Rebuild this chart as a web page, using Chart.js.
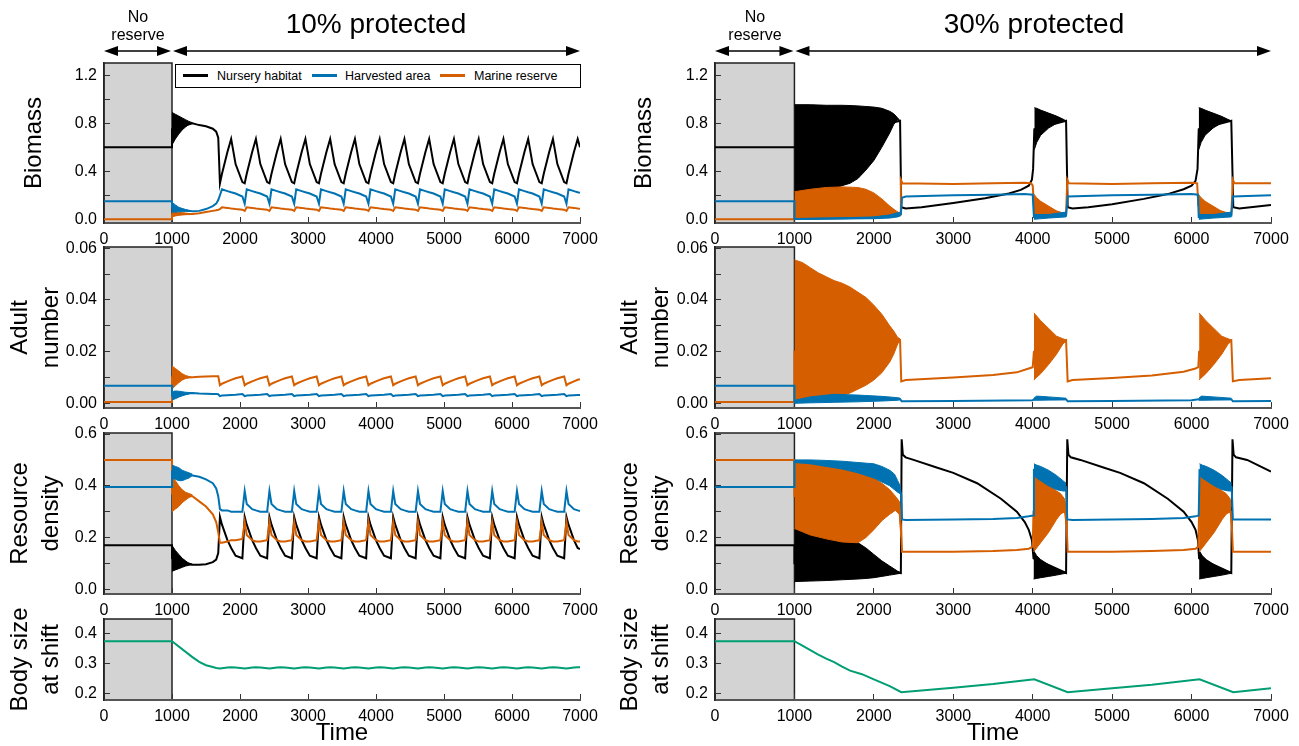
<!DOCTYPE html>
<html>
<head>
<meta charset="utf-8">
<title>Marine reserve simulations</title>
<script src="https://cdn.jsdelivr.net/npm/chart.js@4.4.1/dist/chart.umd.min.js"></script>
<style>
  html, body { margin: 0; padding: 0; background: #fff; }
  body { position: relative; width: 1299px; height: 746px; overflow: hidden; font-family: "Liberation Sans", Arial, sans-serif; color: #000; }
  canvas { position: absolute; z-index: 1; }
  .head { position: absolute; text-align: center; white-space: nowrap; z-index: 2; }
  .noreserve { font-size: 16px; line-height: 18px; width: 120px; top: 8px; }
  .protect { font-size: 28px; line-height: 32px; width: 300px; top: 8px; }
  .legend { position: absolute; left: 175px; top: 64px; width: 404px; height: 22px; border: 1px solid #000; background: #fff; font-size: 12.5px; z-index: 2; }
  .legend span { position: absolute; top: 4px; line-height: 14px; white-space: nowrap; }
  .legend i { position: absolute; top: 9px; width: 25px; height: 3px; }
</style>
</head>
<body>
<div class="head noreserve" style="left:78px">No<br>reserve</div>
<div class="head protect" style="left:226px">10% protected</div>
<div class="head noreserve" style="left:695px">No<br>reserve</div>
<div class="head protect" style="left:884px">30% protected</div>
<div class="legend">
  <i style="left:7px;background:#000000"></i><span style="left:41px">Nursery habitat</span>
  <i style="left:136px;background:#0072B2"></i><span style="left:169px">Harvested area</span>
  <i style="left:264px;background:#D55E00"></i><span style="left:298px">Marine reserve</span>
</div>
<script>
// ================== COLOURS ==================
const BLACK = '#000000';
const BLUE = '#0072B2';
const ORANGE = '#D55E00';
const GREEN = '#009E73';

// ================== AXIS TICKS ==================
const timeTicks = [0, 1000, 2000, 3000, 4000, 5000, 6000, 7000];
const bioTicks = [0, 0.2, 0.4, 0.6, 0.8, 1.0, 1.2];
const bioLabels = [0, 0.4, 0.8, 1.2];
const adultTicks = [0, 0.01, 0.02, 0.03, 0.04, 0.05, 0.06];
const adultLabels = [0, 0.02, 0.04, 0.06];
const resTicks = [0, 0.1, 0.2, 0.3, 0.4, 0.5, 0.6];
const resLabels = [0, 0.2, 0.4, 0.6];
const bodyTicks = [0.2, 0.3, 0.4];
const bodyLabels = [0.2, 0.3, 0.4];

// ================== 10% PROTECTED (left column) ==================
const tLeft = [
  0, 1000, 1000, 1300, 1400, 1500, 1600, 1650, 1680,
  1705, 1735, 1815, 1870, 1935, 2035,
  2069, 2099, 2179, 2234, 2299, 2399,
  2433, 2463, 2543, 2598, 2663, 2763,
  2797, 2827, 2907, 2962, 3027, 3127,
  3161, 3191, 3271, 3326, 3391, 3491,
  3525, 3555, 3635, 3690, 3755, 3855,
  3889, 3919, 3999, 4054, 4119, 4219,
  4253, 4283, 4363, 4418, 4483, 4583,
  4617, 4647, 4727, 4782, 4847, 4947,
  4981, 5011, 5091, 5146, 5211, 5311,
  5345, 5375, 5455, 5510, 5575, 5675,
  5709, 5739, 5819, 5874, 5939, 6039,
  6073, 6103, 6183, 6238, 6303, 6403,
  6437, 6467, 6547, 6602, 6667, 6767,
  6801, 6831, 6911, 6966, 7000
];
const bioL_nursery = [
  0.60, 0.60, 0.75, 0.80, 0.785, 0.775, 0.755, 0.73, 0.68,
  0.30, 0.38, 0.56, 0.67, 0.46, 0.31,
  0.30, 0.38, 0.56, 0.67, 0.46, 0.31,
  0.30, 0.38, 0.56, 0.67, 0.46, 0.31,
  0.30, 0.38, 0.56, 0.67, 0.46, 0.31,
  0.30, 0.38, 0.56, 0.67, 0.46, 0.31,
  0.30, 0.38, 0.56, 0.67, 0.46, 0.31,
  0.30, 0.38, 0.56, 0.67, 0.46, 0.31,
  0.30, 0.38, 0.56, 0.67, 0.46, 0.31,
  0.30, 0.38, 0.56, 0.67, 0.46, 0.31,
  0.30, 0.38, 0.56, 0.67, 0.46, 0.31,
  0.30, 0.38, 0.56, 0.67, 0.46, 0.31,
  0.30, 0.38, 0.56, 0.67, 0.46, 0.31,
  0.30, 0.38, 0.56, 0.67, 0.46, 0.31,
  0.30, 0.38, 0.56, 0.67, 0.46, 0.31,
  0.30, 0.38, 0.56, 0.67, 0.60
];
const bioL_harvest = [
  0.15, 0.15, 0.10, 0.066, 0.07, 0.085, 0.11, 0.13, 0.16,
  0.20, 0.25, 0.235, 0.225, 0.215, 0.19,
  0.13, 0.25, 0.235, 0.225, 0.215, 0.19,
  0.13, 0.25, 0.235, 0.225, 0.215, 0.19,
  0.13, 0.25, 0.235, 0.225, 0.215, 0.19,
  0.13, 0.25, 0.235, 0.225, 0.215, 0.19,
  0.13, 0.25, 0.235, 0.225, 0.215, 0.19,
  0.13, 0.25, 0.235, 0.225, 0.215, 0.19,
  0.13, 0.25, 0.235, 0.225, 0.215, 0.19,
  0.13, 0.25, 0.235, 0.225, 0.215, 0.19,
  0.13, 0.25, 0.235, 0.225, 0.215, 0.19,
  0.13, 0.25, 0.235, 0.225, 0.215, 0.19,
  0.13, 0.25, 0.235, 0.225, 0.215, 0.19,
  0.13, 0.25, 0.235, 0.225, 0.215, 0.19,
  0.13, 0.25, 0.235, 0.225, 0.215, 0.19,
  0.13, 0.25, 0.235, 0.225, 0.22
];
const bioL_reserve = [
  0.0, 0.0, 0.04, 0.045, 0.05, 0.06, 0.07, 0.075, 0.08,
  0.085, 0.10, 0.095, 0.09, 0.085, 0.08,
  0.07, 0.10, 0.095, 0.09, 0.085, 0.08,
  0.07, 0.10, 0.095, 0.09, 0.085, 0.08,
  0.07, 0.10, 0.095, 0.09, 0.085, 0.08,
  0.07, 0.10, 0.095, 0.09, 0.085, 0.08,
  0.07, 0.10, 0.095, 0.09, 0.085, 0.08,
  0.07, 0.10, 0.095, 0.09, 0.085, 0.08,
  0.07, 0.10, 0.095, 0.09, 0.085, 0.08,
  0.07, 0.10, 0.095, 0.09, 0.085, 0.08,
  0.07, 0.10, 0.095, 0.09, 0.085, 0.08,
  0.07, 0.10, 0.095, 0.09, 0.085, 0.08,
  0.07, 0.10, 0.095, 0.09, 0.085, 0.08,
  0.07, 0.10, 0.095, 0.09, 0.085, 0.08,
  0.07, 0.10, 0.095, 0.09, 0.085, 0.08,
  0.07, 0.10, 0.095, 0.09, 0.088
];
const adL_reserve = [
  0.0005, 0.0005, 0.010, 0.0101, 0.0103, 0.0104, 0.0105, 0.0105, 0.0105,
  0.0070, 0.0076, 0.0085, 0.0091, 0.0097, 0.0104,
  0.0070, 0.0076, 0.0085, 0.0091, 0.0097, 0.0104,
  0.0070, 0.0076, 0.0085, 0.0091, 0.0097, 0.0104,
  0.0070, 0.0076, 0.0085, 0.0091, 0.0097, 0.0104,
  0.0070, 0.0076, 0.0085, 0.0091, 0.0097, 0.0104,
  0.0070, 0.0076, 0.0085, 0.0091, 0.0097, 0.0104,
  0.0070, 0.0076, 0.0085, 0.0091, 0.0097, 0.0104,
  0.0070, 0.0076, 0.0085, 0.0091, 0.0097, 0.0104,
  0.0070, 0.0076, 0.0085, 0.0091, 0.0097, 0.0104,
  0.0070, 0.0076, 0.0085, 0.0091, 0.0097, 0.0104,
  0.0070, 0.0076, 0.0085, 0.0091, 0.0097, 0.0104,
  0.0070, 0.0076, 0.0085, 0.0091, 0.0097, 0.0104,
  0.0070, 0.0076, 0.0085, 0.0091, 0.0097, 0.0104,
  0.0070, 0.0076, 0.0085, 0.0091, 0.0097, 0.0104,
  0.0070, 0.0076, 0.0085, 0.0091, 0.0093
];
const adL_harvest = [
  0.0068, 0.0068, 0.0030, 0.0040, 0.0038, 0.0037, 0.0036, 0.0036, 0.0035,
  0.0028, 0.0030, 0.0031, 0.0032, 0.0033, 0.0036,
  0.0028, 0.0030, 0.0031, 0.0032, 0.0033, 0.0036,
  0.0028, 0.0030, 0.0031, 0.0032, 0.0033, 0.0036,
  0.0028, 0.0030, 0.0031, 0.0032, 0.0033, 0.0036,
  0.0028, 0.0030, 0.0031, 0.0032, 0.0033, 0.0036,
  0.0028, 0.0030, 0.0031, 0.0032, 0.0033, 0.0036,
  0.0028, 0.0030, 0.0031, 0.0032, 0.0033, 0.0036,
  0.0028, 0.0030, 0.0031, 0.0032, 0.0033, 0.0036,
  0.0028, 0.0030, 0.0031, 0.0032, 0.0033, 0.0036,
  0.0028, 0.0030, 0.0031, 0.0032, 0.0033, 0.0036,
  0.0028, 0.0030, 0.0031, 0.0032, 0.0033, 0.0036,
  0.0028, 0.0030, 0.0031, 0.0032, 0.0033, 0.0036,
  0.0028, 0.0030, 0.0031, 0.0032, 0.0033, 0.0036,
  0.0028, 0.0030, 0.0031, 0.0032, 0.0033, 0.0036,
  0.0028, 0.0030, 0.0031, 0.0032, 0.0032
];
const resL_nursery = [
  0.17, 0.17, 0.12, 0.095, 0.095, 0.097, 0.105, 0.115, 0.14,
  0.28, 0.25, 0.19, 0.16, 0.13, 0.12,
  0.28, 0.25, 0.19, 0.16, 0.13, 0.12,
  0.28, 0.25, 0.19, 0.16, 0.13, 0.12,
  0.28, 0.25, 0.19, 0.16, 0.13, 0.12,
  0.28, 0.25, 0.19, 0.16, 0.13, 0.12,
  0.28, 0.25, 0.19, 0.16, 0.13, 0.12,
  0.28, 0.25, 0.19, 0.16, 0.13, 0.12,
  0.28, 0.25, 0.19, 0.16, 0.13, 0.12,
  0.28, 0.25, 0.19, 0.16, 0.13, 0.12,
  0.28, 0.25, 0.19, 0.16, 0.13, 0.12,
  0.28, 0.25, 0.19, 0.16, 0.13, 0.12,
  0.28, 0.25, 0.19, 0.16, 0.13, 0.12,
  0.28, 0.25, 0.19, 0.16, 0.13, 0.12,
  0.28, 0.25, 0.19, 0.16, 0.13, 0.12,
  0.28, 0.25, 0.19, 0.16, 0.155
];
const resL_harvest = [
  0.395, 0.395, 0.455, 0.44, 0.435, 0.425, 0.41, 0.39, 0.36,
  0.31, 0.305, 0.305, 0.30, 0.30, 0.30,
  0.38, 0.33, 0.31, 0.305, 0.30, 0.30,
  0.38, 0.33, 0.31, 0.305, 0.30, 0.30,
  0.38, 0.33, 0.31, 0.305, 0.30, 0.30,
  0.38, 0.33, 0.31, 0.305, 0.30, 0.30,
  0.38, 0.33, 0.31, 0.305, 0.30, 0.30,
  0.38, 0.33, 0.31, 0.305, 0.30, 0.30,
  0.38, 0.33, 0.31, 0.305, 0.30, 0.30,
  0.38, 0.33, 0.31, 0.305, 0.30, 0.30,
  0.38, 0.33, 0.31, 0.305, 0.30, 0.30,
  0.38, 0.33, 0.31, 0.305, 0.30, 0.30,
  0.38, 0.33, 0.31, 0.305, 0.30, 0.30,
  0.38, 0.33, 0.31, 0.305, 0.30, 0.30,
  0.38, 0.33, 0.31, 0.305, 0.30, 0.30,
  0.38, 0.33, 0.31, 0.305, 0.303
];
const resL_reserve = [
  0.50, 0.50, 0.37, 0.36, 0.34, 0.32, 0.29, 0.26, 0.22,
  0.18, 0.18, 0.185, 0.19, 0.19, 0.195,
  0.26, 0.21, 0.19, 0.185, 0.185, 0.19,
  0.26, 0.21, 0.19, 0.185, 0.185, 0.19,
  0.26, 0.21, 0.19, 0.185, 0.185, 0.19,
  0.26, 0.21, 0.19, 0.185, 0.185, 0.19,
  0.26, 0.21, 0.19, 0.185, 0.185, 0.19,
  0.26, 0.21, 0.19, 0.185, 0.185, 0.19,
  0.26, 0.21, 0.19, 0.185, 0.185, 0.19,
  0.26, 0.21, 0.19, 0.185, 0.185, 0.19,
  0.26, 0.21, 0.19, 0.185, 0.185, 0.19,
  0.26, 0.21, 0.19, 0.185, 0.185, 0.19,
  0.26, 0.21, 0.19, 0.185, 0.185, 0.19,
  0.26, 0.21, 0.19, 0.185, 0.185, 0.19,
  0.26, 0.21, 0.19, 0.185, 0.185, 0.19,
  0.26, 0.21, 0.19, 0.185, 0.185
];
const bodyL = [
  0.375, 0.375, 0.375, 0.322, 0.306, 0.295, 0.289, 0.286, 0.285,
  0.284, 0.285, 0.287, 0.288, 0.287, 0.285,
  0.284, 0.285, 0.287, 0.288, 0.287, 0.285,
  0.284, 0.285, 0.287, 0.288, 0.287, 0.285,
  0.284, 0.285, 0.287, 0.288, 0.287, 0.285,
  0.284, 0.285, 0.287, 0.288, 0.287, 0.285,
  0.284, 0.285, 0.287, 0.288, 0.287, 0.285,
  0.284, 0.285, 0.287, 0.288, 0.287, 0.285,
  0.284, 0.285, 0.287, 0.288, 0.287, 0.285,
  0.284, 0.285, 0.287, 0.288, 0.287, 0.285,
  0.284, 0.285, 0.287, 0.288, 0.287, 0.285,
  0.284, 0.285, 0.287, 0.288, 0.287, 0.285,
  0.284, 0.285, 0.287, 0.288, 0.287, 0.285,
  0.284, 0.285, 0.287, 0.288, 0.287, 0.285,
  0.284, 0.285, 0.287, 0.288, 0.287, 0.285,
  0.284, 0.285, 0.287, 0.288, 0.288
];

// fast-oscillation envelopes right after the reserve is set up
const tBandL = [1000, 1050, 1100, 1150, 1200, 1250, 1300];
const bioL_nurseryHi = [0.89, 0.875, 0.86, 0.845, 0.83, 0.815, 0.805];
const bioL_nurseryLo = [0.62, 0.67, 0.71, 0.745, 0.77, 0.79, 0.80];
const bioL_harvestHi = [0.14, 0.12, 0.10, 0.09, 0.08, 0.072, 0.066];
const bioL_harvestLo = [0.06, 0.06, 0.062, 0.064, 0.065, 0.065, 0.065];
const bioL_reserveHi = [0.06, 0.06, 0.058, 0.055, 0.052, 0.048, 0.045];
const bioL_reserveLo = [0.02, 0.028, 0.033, 0.037, 0.04, 0.043, 0.045];
const adL_reserveHi = [0.0145, 0.0135, 0.0125, 0.0115, 0.0108, 0.0104, 0.0101];
const adL_reserveLo = [0.0055, 0.0068, 0.0080, 0.0090, 0.0096, 0.0099, 0.0100];
const adL_harvestHi = [0.0045, 0.0048, 0.0047, 0.0045, 0.0043, 0.0042, 0.0041];
const adL_harvestLo = [0.0013, 0.0018, 0.0024, 0.0029, 0.0033, 0.0037, 0.0040];
const resL_harvestHi = [0.48, 0.475, 0.47, 0.46, 0.455, 0.45, 0.445];
const resL_harvestLo = [0.43, 0.425, 0.42, 0.42, 0.425, 0.43, 0.44];
const resL_reserveHi = [0.44, 0.42, 0.40, 0.385, 0.375, 0.37, 0.365];
const resL_reserveLo = [0.30, 0.31, 0.32, 0.335, 0.345, 0.355, 0.36];
const resL_nurseryHi = [0.17, 0.15, 0.135, 0.12, 0.11, 0.10, 0.097];
const resL_nurseryLo = [0.07, 0.075, 0.08, 0.085, 0.09, 0.093, 0.095];

// ================== 30% PROTECTED (right column) ==================
// Biomass
const bioR_nurseryT = [0, 1000, 2330, 2345, 2400, 2600, 3000, 3400, 3700, 3850, 3950, 3990, 4005, 4020, 4420, 4440, 4500, 4700, 5000, 5400, 5700, 5900, 6000, 6050, 6075, 6090, 6500, 6525, 6600, 6800, 7000];
const bioR_nursery = [0.60, 0.60, 0.82, 0.10, 0.09, 0.10, 0.135, 0.175, 0.215, 0.245, 0.28, 0.33, 0.42, 0.75, 0.82, 0.10, 0.09, 0.10, 0.125, 0.17, 0.21, 0.25, 0.28, 0.32, 0.42, 0.75, 0.82, 0.10, 0.09, 0.105, 0.12];
const bioR_nb1T = [1000, 1200, 1400, 1600, 1700, 1800, 1900, 2000, 2100, 2200, 2250, 2300, 2330];
const bioR_nb1Hi = [0.955, 0.955, 0.95, 0.95, 0.948, 0.945, 0.94, 0.935, 0.925, 0.90, 0.88, 0.845, 0.82];
const bioR_nb1Lo = [0.20, 0.21, 0.23, 0.28, 0.30, 0.34, 0.41, 0.49, 0.60, 0.72, 0.79, 0.83, 0.82];
const bioR_nb2T = [4020, 4050, 4100, 4200, 4300, 4380, 4420];
const bioR_nb3T = [6090, 6120, 6170, 6270, 6370, 6450, 6500];
const bioR_nbHi = [0.93, 0.925, 0.91, 0.885, 0.86, 0.835, 0.82];
const bioR_nbLo = [0.58, 0.64, 0.70, 0.76, 0.80, 0.815, 0.82];

const bioR_reserveT = [0, 1000, 1000, 2330, 2340, 2360, 3000, 3500, 3900, 3980, 4000, 4015, 4420, 4435, 4455, 5000, 5500, 6000, 6070, 6085, 6500, 6520, 6540, 7000];
const bioR_reserve = [0.0, 0.0, 0.12, 0.04, 0.33, 0.30, 0.295, 0.30, 0.305, 0.30, 0.28, 0.12, 0.04, 0.33, 0.30, 0.295, 0.30, 0.305, 0.30, 0.12, 0.04, 0.33, 0.30, 0.30];
const bioR_rb1T = [1000, 1200, 1400, 1600, 1800, 1900, 2000, 2100, 2200, 2280, 2330];
const bioR_rb1Hi = [0.23, 0.25, 0.265, 0.27, 0.265, 0.25, 0.22, 0.17, 0.11, 0.07, 0.05];
const bioR_rb1Lo = [0.0, 0.0, 0.003, 0.005, 0.008, 0.01, 0.013, 0.017, 0.022, 0.028, 0.033];
const bioR_rb2T = [4015, 4050, 4100, 4200, 4300, 4380, 4420];
const bioR_rb3T = [6085, 6120, 6170, 6270, 6370, 6450, 6500];
const bioR_rbHi = [0.21, 0.18, 0.15, 0.11, 0.07, 0.05, 0.04];
const bioR_rbLo = [0.02, 0.02, 0.02, 0.025, 0.03, 0.033, 0.035];

const bioR_harvestT = [0, 1000, 1000, 2000, 2300, 2340, 2355, 2400, 3000, 3500, 3900, 4000, 4015, 4420, 4440, 5000, 5500, 6000, 6080, 6090, 6500, 6520, 7000];
const bioR_harvest = [0.15, 0.15, 0.003, 0.012, 0.04, 0.045, 0.18, 0.19, 0.20, 0.205, 0.21, 0.205, 0.02, 0.03, 0.19, 0.20, 0.205, 0.21, 0.205, 0.02, 0.03, 0.19, 0.20];
const bioR_hb1T = [1000, 1600, 2000, 2200, 2300, 2340];
const bioR_hb1Hi = [0.005, 0.012, 0.02, 0.035, 0.055, 0.06];
const bioR_hb1Lo = [0.0, 0.002, 0.005, 0.01, 0.02, 0.03];
const bioR_hb2T = [4015, 4200, 4420];
const bioR_hb3T = [6090, 6275, 6500];
const bioR_hbHi = [0.04, 0.04, 0.06];
const bioR_hbLo = [0.0, 0.01, 0.02];

// Adult number
const adR_reserveT = [0, 1000, 1000, 2330, 2345, 2400, 2700, 3000, 3500, 3800, 3950, 4000, 4015, 4420, 4440, 4500, 5000, 5500, 5900, 6050, 6085, 6095, 6500, 6520, 6600, 7000];
const adR_reserve = [0.0005, 0.0005, 0.02, 0.0245, 0.0085, 0.009, 0.0095, 0.010, 0.011, 0.012, 0.0135, 0.014, 0.02, 0.0245, 0.0085, 0.009, 0.0098, 0.0108, 0.0122, 0.0135, 0.014, 0.02, 0.0245, 0.0085, 0.009, 0.0097];
const adR_rb1T = [1000, 1100, 1200, 1300, 1400, 1500, 1600, 1700, 1800, 1900, 2000, 2100, 2200, 2250, 2300, 2330];
const adR_rb1Hi = [0.0555, 0.0545, 0.0525, 0.0505, 0.049, 0.0475, 0.0465, 0.045, 0.043, 0.041, 0.038, 0.0345, 0.030, 0.028, 0.0255, 0.025];
const adR_rb1Lo = [0.0003, 0.0005, 0.0008, 0.0011, 0.0015, 0.002, 0.003, 0.004, 0.0055, 0.007, 0.009, 0.0118, 0.016, 0.019, 0.023, 0.024];
const adR_rb2T = [4015, 4030, 4100, 4200, 4300, 4380, 4420];
const adR_rb3T = [6095, 6110, 6180, 6280, 6380, 6460, 6500];
const adR_rbHi = [0.035, 0.0345, 0.032, 0.029, 0.026, 0.025, 0.0245];
const adR_rbLo = [0.009, 0.0095, 0.0115, 0.015, 0.019, 0.023, 0.024];

const adR_harvestT = [0, 1000, 1000, 2330, 2350, 3000, 4000, 4015, 4420, 4440, 5000, 6000, 6090, 6500, 6520, 7000];
const adR_harvest = [0.0068, 0.0068, 0.0006, 0.0017, 0.0008, 0.0009, 0.0012, 0.0016, 0.0016, 0.0008, 0.0009, 0.0012, 0.0016, 0.0016, 0.0008, 0.0009];
const adR_hb1T = [1000, 1200, 1500, 1800, 2100, 2300, 2330];
const adR_hb1Hi = [0.0012, 0.0025, 0.0035, 0.0032, 0.0027, 0.0022, 0.002];
const adR_hb1Lo = [0.0, 0.0002, 0.0004, 0.0006, 0.0009, 0.0012, 0.0014];
const adR_hb2T = [4015, 4050, 4200, 4420];
const adR_hb3T = [6090, 6125, 6275, 6500];
const adR_hbHi = [0.002, 0.0028, 0.0025, 0.002];
const adR_hbLo = [0.0012, 0.0012, 0.0013, 0.0014];

// Resource density
const resR_nurseryT = [0, 1000, 1000, 2340, 2350, 2365, 2400, 2500, 2800, 3000, 3300, 3600, 3800, 3900, 3950, 3990, 4010, 4420, 4435, 4450, 4480, 4600, 4900, 5100, 5400, 5700, 5900, 6000, 6050, 6080, 6095, 6500, 6515, 6530, 6560, 6700, 7000];
const resR_nursery = [0.17, 0.17, 0.10, 0.063, 0.58, 0.52, 0.51, 0.50, 0.47, 0.45, 0.41, 0.35, 0.30, 0.26, 0.23, 0.19, 0.12, 0.063, 0.58, 0.52, 0.51, 0.50, 0.47, 0.45, 0.41, 0.35, 0.30, 0.26, 0.23, 0.19, 0.12, 0.063, 0.58, 0.52, 0.51, 0.50, 0.455];
const resR_nb1T = [1000, 1200, 1400, 1600, 1800, 1900, 2000, 2100, 2200, 2300, 2340];
const resR_nb1Hi = [0.235, 0.225, 0.21, 0.195, 0.18, 0.16, 0.135, 0.11, 0.09, 0.07, 0.065];
const resR_nb1Lo = [0.03, 0.032, 0.034, 0.037, 0.04, 0.042, 0.045, 0.05, 0.055, 0.06, 0.062];
const resR_nb2T = [4010, 4050, 4100, 4200, 4300, 4380, 4420];
const resR_nb3T = [6095, 6135, 6185, 6285, 6385, 6465, 6500];
const resR_nbHi = [0.15, 0.13, 0.115, 0.095, 0.08, 0.068, 0.063];
const resR_nbLo = [0.04, 0.042, 0.045, 0.05, 0.055, 0.06, 0.062];

const resR_reserveT = [0, 1000, 1000, 2270, 2320, 2340, 2355, 2400, 3000, 3500, 3800, 3950, 4000, 4010, 4420, 4440, 5000, 5500, 5900, 6050, 6085, 6095, 6500, 6520, 7000];
const resR_reserve = [0.50, 0.50, 0.36, 0.33, 0.31, 0.25, 0.145, 0.145, 0.145, 0.148, 0.152, 0.157, 0.165, 0.30, 0.30, 0.145, 0.145, 0.148, 0.152, 0.157, 0.165, 0.30, 0.30, 0.145, 0.145];
const resR_rb1T = [1000, 1200, 1400, 1600, 1800, 1900, 2000, 2100, 2200, 2270, 2320, 2340];
const resR_rb1Hi = [0.495, 0.49, 0.48, 0.47, 0.455, 0.445, 0.43, 0.41, 0.385, 0.36, 0.34, 0.30];
const resR_rb1Lo = [0.235, 0.21, 0.195, 0.183, 0.18, 0.20, 0.23, 0.265, 0.29, 0.305, 0.29, 0.20];
const resR_rb2T = [4010, 4050, 4100, 4200, 4300, 4350, 4400, 4420];
const resR_rb3T = [6095, 6135, 6185, 6285, 6385, 6435, 6485, 6500];
const resR_rbHi = [0.45, 0.44, 0.43, 0.405, 0.38, 0.37, 0.35, 0.32];
const resR_rbLo = [0.145, 0.16, 0.18, 0.22, 0.27, 0.29, 0.30, 0.25];

const resR_harvestT = [0, 1000, 1000, 1600, 2000, 2200, 2300, 2345, 2355, 2400, 3000, 3500, 3800, 3950, 4005, 4015, 4420, 4435, 4500, 5000, 5500, 5900, 6050, 6090, 6100, 6505, 6520, 7000];
const resR_harvest = [0.395, 0.395, 0.495, 0.48, 0.458, 0.43, 0.40, 0.365, 0.27, 0.268, 0.27, 0.272, 0.276, 0.282, 0.285, 0.46, 0.395, 0.27, 0.268, 0.27, 0.272, 0.276, 0.282, 0.285, 0.46, 0.395, 0.27, 0.27];
const resR_hb1T = [1000, 1200, 1400, 1600, 1800, 2000, 2100, 2200, 2260, 2300, 2330, 2345];
const resR_hb1Hi = [0.50, 0.50, 0.498, 0.495, 0.49, 0.485, 0.475, 0.46, 0.445, 0.42, 0.40, 0.37];
const resR_hb1Lo = [0.49, 0.485, 0.475, 0.465, 0.45, 0.43, 0.415, 0.40, 0.385, 0.375, 0.37, 0.36];
const resR_hb2T = [4015, 4050, 4100, 4200, 4300, 4380, 4420];
const resR_hb3T = [6100, 6135, 6185, 6285, 6385, 6465, 6505];
const resR_hbHi = [0.485, 0.48, 0.475, 0.46, 0.44, 0.42, 0.41];
const resR_hbLo = [0.44, 0.43, 0.42, 0.40, 0.385, 0.38, 0.38];

// Body size at shift
const bodyR_T = [0, 1000, 1100, 1200, 1300, 1400, 1500, 1600, 1700, 1850, 2000, 2200, 2345, 3000, 3500, 4020, 4440, 5000, 5500, 6100, 6525, 7000];
const bodyR = [0.375, 0.375, 0.36, 0.345, 0.33, 0.317, 0.305, 0.29, 0.277, 0.265, 0.248, 0.225, 0.205, 0.22, 0.232, 0.248, 0.205, 0.218, 0.23, 0.248, 0.205, 0.218];

// ================== LAYOUT ==================
const COLS = {
  L: { left: 0, width: 612, yWidth: 104 },
  R: { left: 610, width: 693, yWidth: 105 }
};
const ROWS = [
  { top: 0, height: 247, padTop: 63, xHeight: 24 },
  { top: 223, height: 209, padTop: 24, xHeight: 24 },
  { top: 409, height: 209, padTop: 24, xHeight: 24 },
  { top: 595, height: 153, padTop: 24, xHeight: 48 }
];
const Y_BIO = { min: -0.031, max: 1.3025, ticks: bioTicks, labels: bioLabels, digits: 1 };
const Y_ADULT = { min: -0.0018, max: 0.0605, ticks: adultTicks, labels: adultLabels, digits: 2 };
const Y_RES = { min: -0.018, max: 0.604, ticks: resTicks, labels: resLabels, digits: 1 };
const Y_BODY = { min: 0.179, max: 0.449, ticks: bodyTicks, labels: bodyLabels, digits: 1 };

Chart.defaults.font.family = "'Liberation Sans', Arial, sans-serif";
Chart.defaults.color = '#000';

// ================== HELPERS ==================
function pts(t, v) {
  return t.map((x, i) => ({ x: x, y: v[i] }));
}

function line(t, v, color) {
  return { data: pts(t, v), borderColor: color, borderWidth: 2, pointRadius: 0, fill: false, tension: 0 };
}

// envelope of the fast oscillations: upper edge, then lower edge filled up to it
function band(t, hi, lo, color) {
  return [
    { data: pts(t, hi), borderColor: color, borderWidth: 1, pointRadius: 0, fill: false, tension: 0 },
    { data: pts(t, lo), borderColor: color, borderWidth: 1, pointRadius: 0, fill: '-1', backgroundColor: color, tension: 0 }
  ];
}

// grey "no reserve" period
const reserveBox = {
  id: 'reserveBox',
  beforeDraw(chart) {
    const { ctx, chartArea: a, scales: { x } } = chart;
    const x0 = x.getPixelForValue(0);
    const x1 = x.getPixelForValue(1000);
    ctx.save();
    ctx.fillStyle = '#d3d3d3';
    ctx.fillRect(x0, a.top, x1 - x0, a.bottom - a.top);
    ctx.strokeStyle = '#222';
    ctx.lineWidth = 1.5;
    ctx.strokeRect(x0, a.top, x1 - x0, a.bottom - a.top);
    ctx.restore();
  }
};

function drawDoubleArrow(ctx, x0, x1, y) {
  const L = 14, H = 5;
  ctx.save();
  ctx.strokeStyle = '#000';
  ctx.fillStyle = '#000';
  ctx.lineWidth = 1.5;
  ctx.beginPath();
  ctx.moveTo(x0 + L - 1, y);
  ctx.lineTo(x1 - L + 1, y);
  ctx.stroke();
  ctx.beginPath();
  ctx.moveTo(x0, y); ctx.lineTo(x0 + L, y - H); ctx.lineTo(x0 + L, y + H); ctx.closePath();
  ctx.fill();
  ctx.beginPath();
  ctx.moveTo(x1, y); ctx.lineTo(x1 - L, y - H); ctx.lineTo(x1 - L, y + H); ctx.closePath();
  ctx.fill();
  ctx.restore();
}

const periodArrows = {
  id: 'periodArrows',
  afterDraw(chart) {
    const x = chart.scales.x;
    const y = 51;
    const a = x.getPixelForValue(0), b = x.getPixelForValue(1000), c = x.getPixelForValue(7000);
    drawDoubleArrow(chart.ctx, a, b - 1, y);
    drawDoubleArrow(chart.ctx, b + 1, c, y);
  }
};

function addPanel(col, row, datasets, yAxis, yTitle, opts = {}) {
  const c = COLS[col], r = ROWS[row];
  const canvas = document.createElement('canvas');
  canvas.width = c.width;
  canvas.height = r.height;
  canvas.style.left = c.left + 'px';
  canvas.style.top = r.top + 'px';
  document.body.appendChild(canvas);
  const multi = Array.isArray(yTitle);
  return new Chart(canvas, {
    type: 'line',
    data: { datasets: datasets },
    options: {
      responsive: false,
      animation: false,
      events: [],
      layout: { padding: { top: r.padTop, right: 32, bottom: 0, left: 0 } },
      plugins: { legend: { display: false }, tooltip: { enabled: false } },
      scales: {
        x: {
          type: 'linear', min: 0, max: 7000,
          afterBuildTicks: s => { s.ticks = timeTicks.map(v => ({ value: v })); },
          afterFit: s => { s.height = r.xHeight; },
          ticks: { callback: v => String(v), padding: 13, maxRotation: 0, autoSkip: false, color: '#000', font: { size: 16 } },
          grid: { drawOnChartArea: false, tickLength: -6, color: '#333' },
          border: { color: '#555', width: 2 },
          title: { display: !!opts.timeTitle, text: 'Time', color: '#000', font: { size: 24 }, padding: 0 }
        },
        y: {
          type: 'linear', min: yAxis.min, max: yAxis.max,
          afterBuildTicks: s => { s.ticks = yAxis.ticks.map(v => ({ value: v })); },
          afterFit: s => { s.width = c.yWidth; },
          ticks: {
            callback: v => yAxis.labels.some(l => Math.abs(l - v) < 1e-9) ? v.toFixed(yAxis.digits) : '',
            padding: 13, color: '#000', font: { size: 16 }
          },
          grid: { drawOnChartArea: false, tickLength: -6, color: '#333' },
          border: { color: '#222', width: 1.5 },
          title: {
            display: true, text: yTitle, color: '#000',
            font: { size: 24, lineHeight: multi ? 1.3 : 1.2 },
            padding: { top: multi ? 5 : 20, bottom: 0 }
          }
        }
      }
    },
    plugins: opts.arrows ? [reserveBox, periodArrows] : [reserveBox]
  });
}

// ================== PANELS: 10% protected ==================
addPanel('L', 0, [
  line(tLeft, bioL_harvest, BLUE), ...band(tBandL, bioL_harvestHi, bioL_harvestLo, BLUE),
  line(tLeft, bioL_reserve, ORANGE), ...band(tBandL, bioL_reserveHi, bioL_reserveLo, ORANGE),
  line(tLeft, bioL_nursery, BLACK), ...band(tBandL, bioL_nurseryHi, bioL_nurseryLo, BLACK)
], Y_BIO, 'Biomass', { arrows: true });

addPanel('L', 1, [
  line(tLeft, adL_harvest, BLUE), ...band(tBandL, adL_harvestHi, adL_harvestLo, BLUE),
  line(tLeft, adL_reserve, ORANGE), ...band(tBandL, adL_reserveHi, adL_reserveLo, ORANGE)
], Y_ADULT, ['Adult', 'number']);

addPanel('L', 2, [
  line(tLeft, resL_harvest, BLUE), ...band(tBandL, resL_harvestHi, resL_harvestLo, BLUE),
  line(tLeft, resL_reserve, ORANGE), ...band(tBandL, resL_reserveHi, resL_reserveLo, ORANGE),
  line(tLeft, resL_nursery, BLACK), ...band(tBandL, resL_nurseryHi, resL_nurseryLo, BLACK)
], Y_RES, ['Resource', 'density']);

addPanel('L', 3, [
  line(tLeft, bodyL, GREEN)
], Y_BODY, ['Body size', 'at shift'], { timeTitle: true });

// ================== PANELS: 30% protected ==================
addPanel('R', 0, [
  line(bioR_harvestT, bioR_harvest, BLUE),
  ...band(bioR_hb1T, bioR_hb1Hi, bioR_hb1Lo, BLUE),
  ...band(bioR_hb2T, bioR_hbHi, bioR_hbLo, BLUE),
  ...band(bioR_hb3T, bioR_hbHi, bioR_hbLo, BLUE),
  line(bioR_reserveT, bioR_reserve, ORANGE),
  ...band(bioR_rb1T, bioR_rb1Hi, bioR_rb1Lo, ORANGE),
  ...band(bioR_rb2T, bioR_rbHi, bioR_rbLo, ORANGE),
  ...band(bioR_rb3T, bioR_rbHi, bioR_rbLo, ORANGE),
  line(bioR_nurseryT, bioR_nursery, BLACK),
  ...band(bioR_nb1T, bioR_nb1Hi, bioR_nb1Lo, BLACK),
  ...band(bioR_nb2T, bioR_nbHi, bioR_nbLo, BLACK),
  ...band(bioR_nb3T, bioR_nbHi, bioR_nbLo, BLACK)
], Y_BIO, 'Biomass', { arrows: true });

addPanel('R', 1, [
  line(adR_harvestT, adR_harvest, BLUE),
  ...band(adR_hb1T, adR_hb1Hi, adR_hb1Lo, BLUE),
  ...band(adR_hb2T, adR_hbHi, adR_hbLo, BLUE),
  ...band(adR_hb3T, adR_hbHi, adR_hbLo, BLUE),
  line(adR_reserveT, adR_reserve, ORANGE),
  ...band(adR_rb1T, adR_rb1Hi, adR_rb1Lo, ORANGE),
  ...band(adR_rb2T, adR_rbHi, adR_rbLo, ORANGE),
  ...band(adR_rb3T, adR_rbHi, adR_rbLo, ORANGE)
], Y_ADULT, ['Adult', 'number']);

addPanel('R', 2, [
  line(resR_harvestT, resR_harvest, BLUE),
  ...band(resR_hb1T, resR_hb1Hi, resR_hb1Lo, BLUE),
  ...band(resR_hb2T, resR_hbHi, resR_hbLo, BLUE),
  ...band(resR_hb3T, resR_hbHi, resR_hbLo, BLUE),
  line(resR_reserveT, resR_reserve, ORANGE),
  ...band(resR_rb1T, resR_rb1Hi, resR_rb1Lo, ORANGE),
  ...band(resR_rb2T, resR_rbHi, resR_rbLo, ORANGE),
  ...band(resR_rb3T, resR_rbHi, resR_rbLo, ORANGE),
  line(resR_nurseryT, resR_nursery, BLACK),
  ...band(resR_nb1T, resR_nb1Hi, resR_nb1Lo, BLACK),
  ...band(resR_nb2T, resR_nbHi, resR_nbLo, BLACK),
  ...band(resR_nb3T, resR_nbHi, resR_nbLo, BLACK)
], Y_RES, ['Resource', 'density']);

addPanel('R', 3, [
  line(bodyR_T, bodyR, GREEN)
], Y_BODY, ['Body size', 'at shift'], { timeTitle: true });
</script>
</body>
</html>
